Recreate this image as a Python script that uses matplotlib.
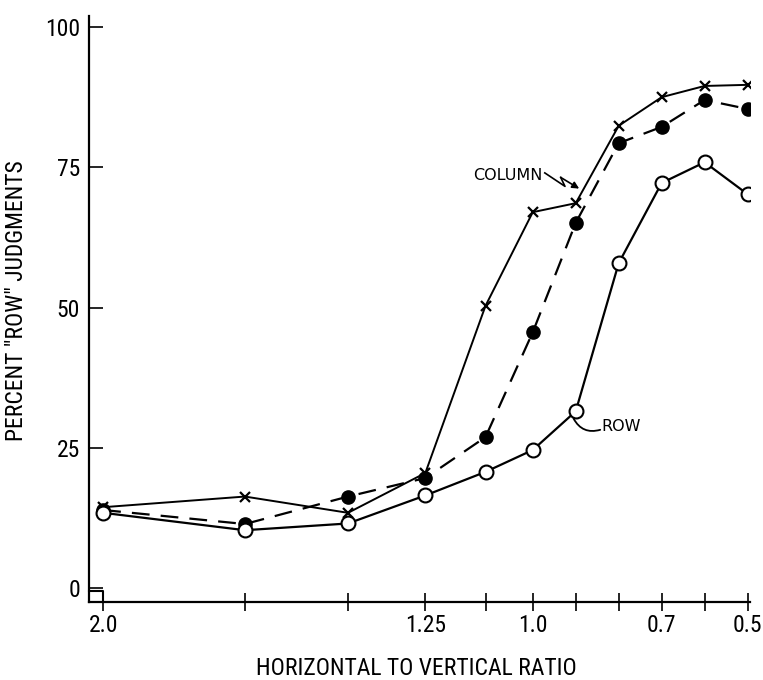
import matplotlib
matplotlib.use("Agg")
import matplotlib.pyplot as plt

plt.rcParams['font.family'] = ['Roboto Condensed', 'DejaVu Sans']

# horizontal to vertical ratio of the dot arrays
ratio = [2.0, 1.67, 1.43, 1.25, 1.11, 1.0, 0.9, 0.8, 0.7, 0.6, 0.5]
# percent "row" judgments
column_pct = [14.4, 16.3, 13.4, 20.5, 50.3, 67.0, 68.6, 82.4, 87.5, 89.5, 89.7]
mixed_pct = [13.9, 11.4, 16.3, 19.6, 26.9, 45.6, 65.1, 79.3, 82.2, 87.0, 85.4]
row_pct = [13.4, 10.3, 11.5, 16.5, 20.7, 24.6, 31.5, 57.9, 72.2, 75.9, 70.2]

labeled_ticks = {2.0: "2.0", 1.25: "1.25", 1.0: "1.0", 0.7: "0.7", 0.5: "0.5"}
y_ticks = [0, 25, 50, 75, 100]

fig = plt.figure(figsize=(7.63, 6.80), dpi=100)
ax = fig.add_axes([0.1166, 0.1147, 0.866, 0.862])

ax.plot(ratio, mixed_pct, color='black', lw=1.6, ls=(0, (8, 5)),
        marker='o', ms=9.5, mfc='black', mec='black', zorder=3)
ax.plot(ratio, column_pct, color='black', lw=1.4,
        marker='x', ms=7, mew=1.6, zorder=4)
ax.plot(ratio, row_pct, color='black', lw=1.6,
        marker='o', ms=10, mfc='white', mec='black', mew=1.5, zorder=5)

ax.set_xlim(2.033, 0.495)
ax.set_ylim(-2.5, 102)

ax.set_xticks(ratio)
ax.set_xticklabels([labeled_ticks.get(r, "") for r in ratio])
ax.set_yticks(y_ticks)

for side in ['top', 'right']:
    ax.spines[side].set_visible(False)
for side in ['left', 'bottom']:
    ax.spines[side].set_linewidth(1.6)

ax.tick_params(axis='x', direction='inout', length=13, width=1.2, pad=2, labelsize=17)
ax.tick_params(axis='y', direction='in', length=10, width=1.2, pad=6.5, labelsize=17)

ax.set_xlabel('HORIZONTAL TO VERTICAL RATIO', fontsize=17)
ax.set_ylabel('PERCENT "ROW" JUDGMENTS', fontsize=17)
ax.xaxis.set_label_coords(0.496, -0.093)
ax.yaxis.set_label_coords(-0.093, 0.515)

# little break square at the origin
ax.plot([2.033, 2.0, 2.0], [-0.5, -0.5, -2.5], color='black', lw=1.5,
        clip_on=False, zorder=6)

# curve labels
ax.text(1.058, 73.6, 'COLUMN', fontsize=11.5, family='DejaVu Sans',
        ha='center', va='center')
ax.plot([0.972, 0.925, 0.935], [74.0, 71.6, 73.2], color='black', lw=1.2)
ax.annotate('', xy=(0.892, 71.2), xytext=(0.935, 73.2),
            arrowprops=dict(arrowstyle='-|>', color='black', lw=1.2,
                            mutation_scale=10, shrinkA=0, shrinkB=0))

ax.text(0.840, 28.7, 'ROW', fontsize=11.5, family='DejaVu Sans',
        ha='left', va='center')
ax.annotate('', xy=(0.905, 30.2), xytext=(0.843, 28.2),
            arrowprops=dict(arrowstyle='-', color='black', lw=1.3,
                            connectionstyle='arc3,rad=-0.4',
                            shrinkA=0, shrinkB=0))

fig.savefig('out.png', dpi=100)
